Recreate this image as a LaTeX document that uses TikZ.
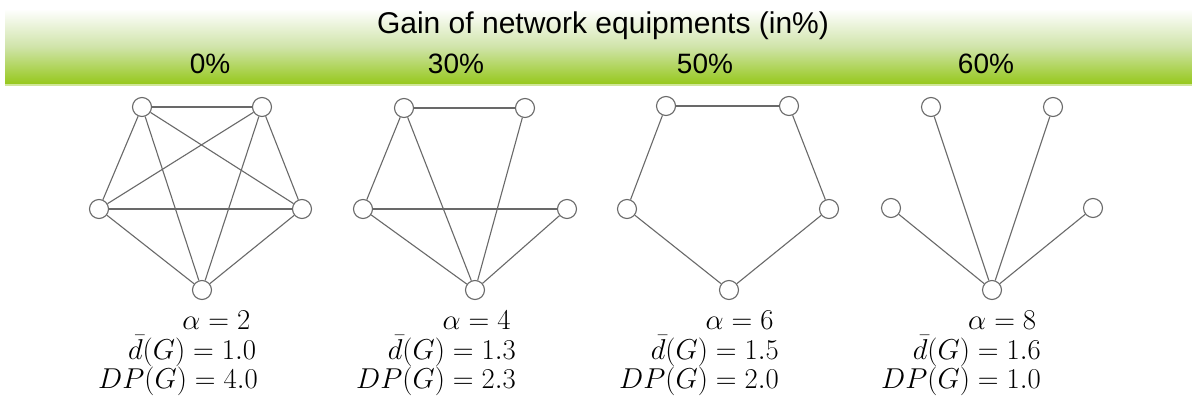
\documentclass[tikz,border=0pt]{standalone}
\usepackage{fontspec}
\newfontfamily\hdrfont{Liberation Sans}
\definecolor{bandgreen}{RGB}{150,200,28}
\definecolor{bandmid}{RGB}{208,228,170}
\definecolor{edgegray}{RGB}{105,105,105}
\tikzset{
  vtx/.style={circle,draw=edgegray,fill=white,line width=1.1pt,minimum size=19pt,inner sep=0pt},
  lnk/.style={draw=edgegray,line width=1.1pt},
  hdr/.style={font=\hdrfont\fontsize{28}{30}\selectfont,inner sep=0pt,text=black},
  mlab/.style={font=\fontsize{24.88}{25.6}\selectfont,scale=1.155,inner sep=0pt,align=right,anchor=north east}
}
\begin{document}
\begin{tikzpicture}[x=1pt,y=-1pt]
\useasboundingbox (0,0) rectangle (1192,406);
\fill[white] (0,0) rectangle (1192,406);
% band
\shade[top color=white,bottom color=bandgreen,middle color=bandmid] (5,9) rectangle (1192,84);
\fill[bandgreen!45] (5,84) rectangle (1192,86.5);
\node[hdr,font=\hdrfont\fontsize{30}{32}\selectfont] (title) at (603,26) {Gain of network equipments (in\%)};
\node[hdr] (p0) at (210,64) {0\%};
\node[hdr] (p30) at (456,64) {30\%};
\node[hdr] (p50) at (705,64) {50\%};
\node[hdr] (p60) at (986,64) {60\%};
% graph 1
\node[vtx] (a1) at (142,107) {};
\node[vtx] (b1) at (262,107) {};
\node[vtx] (c1) at (99,209) {};
\node[vtx] (d1) at (302,209) {};
\node[vtx] (e1) at (202,290) {};
\foreach \u/\v in {a1/b1,a1/c1,a1/d1,a1/e1,b1/c1,b1/d1,b1/e1,c1/d1,c1/e1,d1/e1}
  \path[lnk] (\u) -- (\v);
% graph 2
\node[vtx] (a2) at (404,108) {};
\node[vtx] (b2) at (525,108) {};
\node[vtx] (c2) at (363,209) {};
\node[vtx] (d2) at (567,209) {};
\node[vtx] (e2) at (475,290) {};
\foreach \u/\v in {a2/b2,a2/c2,a2/e2,b2/e2,c2/d2,c2/e2,d2/e2}
  \path[lnk] (\u) -- (\v);
% graph 3
\node[vtx] (a3) at (666,106) {};
\node[vtx] (b3) at (789,106) {};
\node[vtx] (c3) at (627,209) {};
\node[vtx] (d3) at (829,209) {};
\node[vtx] (e3) at (729,290) {};
\foreach \u/\v in {a3/b3,a3/c3,b3/d3,c3/e3,d3/e3}
  \path[lnk] (\u) -- (\v);
% graph 4
\node[vtx] (a4) at (931,107) {};
\node[vtx] (b4) at (1053,107) {};
\node[vtx] (c4) at (891,208) {};
\node[vtx] (d4) at (1093,208) {};
\node[vtx] (e4) at (992,290) {};
\foreach \u in {a4,b4,c4,d4}
  \path[lnk] (\u) -- (e4);
% labels
\node[mlab] (l1) at (258,311) {$\alpha=2$\kern6.5pt\\ $\bar d(G)=1.0$\kern1.5pt\\ $DP(G)=4.0$};
\node[mlab] (l2) at (516,311) {$\alpha=4$\kern4.5pt\\ $\bar d(G)=1.3$\\ $DP(G)=2.3$};
\node[mlab] (l3) at (779,311) {$\alpha=6$\kern4.5pt\\ $\bar d(G)=1.5$\\ $DP(G)=2.0$};
\node[mlab] (l4) at (1041,311) {$\alpha=8$\kern4pt\\ $\bar d(G)=1.6$\\ $DP(G)=1.0$};
\end{tikzpicture}
\end{document}
